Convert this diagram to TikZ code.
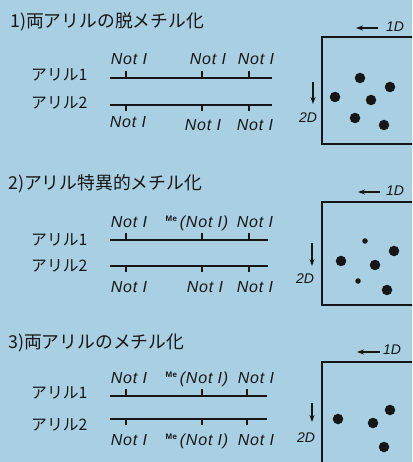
\documentclass[tikz,border=0pt]{standalone}
\usepackage{fontspec}
\setmainfont{Liberation Sans}
\newfontfamily\jpfont{Noto Sans CJK JP}
\newfontfamily\enzfont[LetterSpace=5]{Liberation Sans}
\usetikzlibrary{arrows.meta}
\definecolor{bg}{HTML}{A8CFE2}
\definecolor{ink}{HTML}{161616}
\newcommand{\notI}{{\itshape Not I}}
\newcommand{\meNot}{{\raisebox{6pt}{\fontsize{8}{8}\selectfont\bfseries Me}\,\itshape(Not I)}}
\begin{document}
\begin{tikzpicture}[x=1pt,y=-1pt,
  dna/.style={line width=1.6pt, draw=ink},
  tk/.style={line width=1.3pt, draw=ink},
  ttl/.style={anchor=west, inner sep=0, font=\jpfont\fontsize{17.8}{19}\selectfont, text=ink},
  arl/.style={anchor=west, inner sep=0, font=\jpfont\fontsize{15.8}{17}\selectfont, text=ink},
  enz/.style={anchor=base, inner sep=0, font=\enzfont\fontsize{16}{17}\selectfont, text=ink},
  gel/.style={line width=1.6pt, draw=ink},
  dimarr/.style={line width=1.3pt, draw=ink, -{Stealth[length=7pt,width=5pt]}},
  dimlab/.style={inner sep=0, font=\fontsize{14}{15}\selectfont\itshape, text=ink},
  spot/.style={circle, fill=ink, inner sep=0, minimum size=10.5pt},
  sspot/.style={circle, fill=ink, inner sep=0, minimum size=5.5pt}]
\useasboundingbox (0,0) rectangle (412,462);
\fill[bg] (0,0) rectangle (412,462);
\clip (0,0) rectangle (412,462);

% ---------- Section 1 ----------
\node[ttl] (t1) at (10,21.5) {1)両アリルの脱メチル化};
\node[arl] (a11) at (31,74.5) {アリル1};
\node[arl] (a12) at (31,102.5) {アリル2};
\coordinate (l1s) at (110,78); \coordinate (l1e) at (272,78);
\coordinate (l2s) at (110,105); \coordinate (l2e) at (272,105);
\draw[dna] (l1s) -- (l1e);
\draw[dna] (l2s) -- (l2e);
\foreach \x/\n in {126/a,202/b,249/c}{
  \coordinate (u1\n) at (\x,78); \coordinate (v1\n) at (\x,71);
  \draw[tk] (u1\n) -- (v1\n);
  \coordinate (p1\n) at (\x,105); \coordinate (q1\n) at (\x,111);
  \draw[tk] (p1\n) -- (q1\n);
}
\node[enz] (e11) at (129,65) {\notI};
\node[enz] (e12) at (208,65) {\notI};
\node[enz] (e13) at (256,65) {\notI};
\node[enz] (f11) at (128,128) {\notI};
\node[enz] (f12) at (203,131) {\notI};
\node[enz] (f13) at (255,131) {\notI};

\draw[gel] (430,37) -- (322,37) -- (322,144) -- (430,144);
\coordinate (h1a) at (378,28); \coordinate (h1b) at (356,28);
\draw[dimarr] (h1a) -- (h1b);
\node[dimlab] (d11) at (395,27) {1D};
\coordinate (v1a) at (313,82); \coordinate (v1b) at (313,104);
\draw[dimarr] (v1a) -- (v1b);
\node[dimlab] (d12) at (308,118) {2D};
\node[spot] (s11) at (360,78) {};
\node[spot] (s12) at (390,87) {};
\node[spot] (s13) at (335,97) {};
\node[spot] (s14) at (371,100) {};
\node[spot] (s15) at (355,118) {};
\node[spot] (s16) at (384,125) {};

% ---------- Section 2 ----------
\node[ttl] (t2) at (8,183.5) {2)アリル特異的メチル化};
\node[arl] (a21) at (31,239.5) {アリル1};
\node[arl] (a22) at (31,265.5) {アリル2};
\coordinate (l3s) at (110,240); \coordinate (l3e) at (268,240);
\coordinate (l4s) at (110,266); \coordinate (l4e) at (268,266);
\draw[dna] (l3s) -- (l3e);
\draw[dna] (l4s) -- (l4e);
\foreach \x/\n in {126/a,202/b,249/c}{
  \coordinate (u2\n) at (\x,240); \coordinate (v2\n) at (\x,233);
  \draw[tk] (u2\n) -- (v2\n);
  \coordinate (p2\n) at (\x,266); \coordinate (q2\n) at (\x,272);
  \draw[tk] (p2\n) -- (q2\n);
}
\node[enz] (e21) at (129,227) {\notI};
\node[enz] (e22) at (197,227) {\meNot};
\node[enz] (e23) at (255,227) {\notI};
\node[enz] (f21) at (129,292) {\notI};
\node[enz] (f22) at (205,292) {\notI};
\node[enz] (f23) at (255,292) {\notI};

\draw[gel] (430,202) -- (322,202) -- (322,305) -- (430,305);
\coordinate (h2a) at (380,192); \coordinate (h2b) at (358,192);
\draw[dimarr] (h2a) -- (h2b);
\node[dimlab] (d21) at (395,191) {1D};
\coordinate (v2a) at (312,243); \coordinate (v2b) at (312,266);
\draw[dimarr] (v2a) -- (v2b);
\node[dimlab] (d22) at (305,279) {2D};
\node[sspot] (s21) at (365,241) {};
\node[spot] (s22) at (394,251) {};
\node[spot] (s23) at (341,261) {};
\node[spot] (s24) at (375,265) {};
\node[sspot] (s25) at (358,281) {};
\node[spot] (s26) at (387,290) {};

% ---------- Section 3 ----------
\node[ttl] (t3) at (8,343) {3)両アリルのメチル化};
\node[arl] (a31) at (31,392.5) {アリル1};
\node[arl] (a32) at (31,424.5) {アリル2};
\coordinate (l5s) at (110,396); \coordinate (l5e) at (267,396);
\coordinate (l6s) at (110,419); \coordinate (l6e) at (267,419);
\draw[dna] (l5s) -- (l5e);
\draw[dna] (l6s) -- (l6e);
\foreach \x/\n in {126/a,202/b,247/c}{
  \coordinate (u3\n) at (\x,396); \coordinate (v3\n) at (\x,389);
  \draw[tk] (u3\n) -- (v3\n);
  \coordinate (p3\n) at (\x,419); \coordinate (q3\n) at (\x,425);
  \draw[tk] (p3\n) -- (q3\n);
}
\node[enz] (e31) at (129,383) {\notI};
\node[enz] (e32) at (197,383) {\meNot};
\node[enz] (e33) at (256,383) {\notI};
\node[enz] (f31) at (129,445) {\notI};
\node[enz] (f32) at (197,445) {\meNot};
\node[enz] (f33) at (256,445) {\notI};

\draw[gel] (430,362) -- (322,362) -- (322,480);
\coordinate (h3a) at (380,352); \coordinate (h3b) at (357,352);
\draw[dimarr] (h3a) -- (h3b);
\node[dimlab] (d31) at (392,350) {1D};
\coordinate (v3a) at (312,403); \coordinate (v3b) at (312,422);
\draw[dimarr] (v3a) -- (v3b);
\node[dimlab] (d32) at (306,438) {2D};
\node[spot] (s31) at (338,419) {};
\node[spot] (s32) at (373,423) {};
\node[spot] (s33) at (390,410) {};
\node[spot] (s34) at (384,447) {};
\end{tikzpicture}
\end{document}
